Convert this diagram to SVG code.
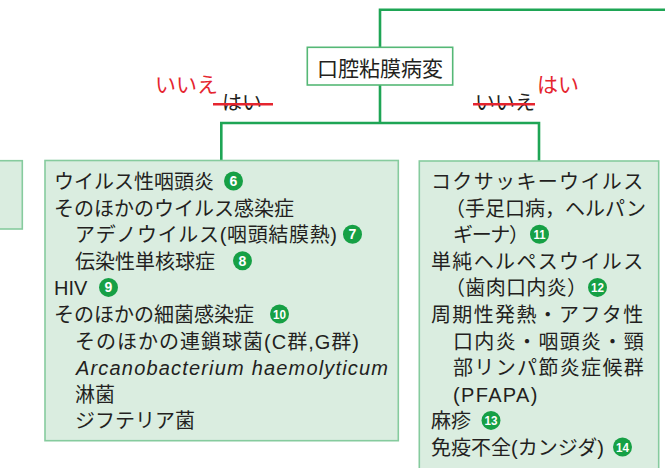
<svg xmlns="http://www.w3.org/2000/svg" width="665" height="468" viewBox="0 0 665 468">
<style>
  .t { font-family: "Liberation Sans", "Noto Sans CJK JP", sans-serif; font-size: 20px; fill: #231f20; }
  .r { letter-spacing: 1.35px; }
  .it { font-family: "Liberation Sans", sans-serif; font-style: italic; font-size: 20px; fill: #231f20; }
  .red { font-family: "Noto Sans CJK JP", sans-serif; font-size: 21px; fill: #e5252f; }
  .strk { font-family: "Noto Sans CJK JP", sans-serif; font-size: 20px; fill: #231f20; }
  .sl { stroke: #e5252f; stroke-width: 2.4; }
  .box { fill: #daede0; stroke: #86cb9e; stroke-width: 1.6; }
  .conn { fill: none; stroke: #1ea555; stroke-width: 2.6; }
  .num circle { fill: #16a045; }
  .num text { font-family: "Liberation Sans", sans-serif; font-weight: bold; font-size: 14px; fill: #ffffff; text-anchor: middle; }
  .num text.d { font-size: 12.5px; }
</style>

<g id="connectors">
  <path class="conn" d="M380,47.3 V9.8 H666"/>
  <path class="conn" d="M380,85 V123 M221.3,160.5 V123 H539 V161"/>
</g>

<g id="root">
  <rect x="307.3" y="47.3" width="145.4" height="37.7" fill="#ffffff" stroke="#55b876" stroke-width="1.6"/>
  <text class="t" x="380" y="76" text-anchor="middle" style="font-size:21px">口腔粘膜病変</text>
</g>

<g id="label-left">
  <text class="red" x="155" y="92">いいえ</text>
  <text class="strk" x="222" y="110">はい</text>
  <line class="sl" x1="213" y1="104.3" x2="273" y2="104.3"/>
</g>

<g id="label-right">
  <text class="strk" x="475" y="110">いいえ</text>
  <line class="sl" x1="473" y1="104.3" x2="535" y2="104.3"/>
  <text class="red" x="537" y="92">はい</text>
</g>

<g id="partial-box">
  <rect class="box" x="-5" y="160.7" width="27.3" height="68.3"/>
</g>

<g id="left-box">
  <rect class="box" x="45" y="160.5" width="353.3" height="280.2"/>
  <text class="t" x="54" y="189">ウイルス性咽頭炎</text>
  <g class="num"><circle cx="233.5" cy="181" r="9.5"/><text x="233.5" y="186">6</text></g>
  <text class="t" x="54" y="215.6">そのほかのウイルス感染症</text>
  <text class="t" x="75" y="242.2" textLength="262" lengthAdjust="spacing">アデノウイルス(咽頭結膜熱)</text>
  <g class="num"><circle cx="352.5" cy="234.2" r="9.5"/><text x="352.5" y="239.2">7</text></g>
  <text class="t" x="75" y="268.8">伝染性単核球症</text>
  <g class="num"><circle cx="242.5" cy="260.8" r="9.5"/><text x="242.5" y="265.8">8</text></g>
  <text class="t" x="54" y="295.4">HIV</text>
  <g class="num"><circle cx="108.5" cy="287.4" r="9.5"/><text x="108.5" y="292.4">9</text></g>
  <text class="t" x="54" y="322">そのほかの細菌感染症</text>
  <g class="num"><circle cx="279.5" cy="314" r="9.5"/><text class="d" x="279.5" y="318.5" textLength="13" lengthAdjust="spacingAndGlyphs">10</text></g>
  <text class="t" x="75" y="348.6" textLength="284" lengthAdjust="spacing">そのほかの連鎖球菌(C群,G群)</text>
  <text class="it" x="76" y="375.2" textLength="312" lengthAdjust="spacing">Arcanobacterium haemolyticum</text>
  <text class="t" x="75" y="401.8">淋菌</text>
  <text class="t" x="75" y="428.4">ジフテリア菌</text>
</g>

<g id="right-box">
  <rect class="box" x="419.3" y="161" width="239.4" height="315"/>
  <text class="t r" x="431" y="189">コクサッキーウイルス</text>
  <text class="t" x="445" y="215.6" textLength="201" lengthAdjust="spacing">（手足口病，ヘルパン</text>
  <text class="t" x="453" y="242.2" textLength="76" lengthAdjust="spacing">ギーナ）</text>
  <g class="num"><circle cx="539.5" cy="234.2" r="9.5"/><text class="d" x="539.5" y="238.7" textLength="12" lengthAdjust="spacingAndGlyphs">11</text></g>
  <text class="t r" x="431" y="268.8">単純ヘルペスウイルス</text>
  <text class="t" x="445" y="295.4" textLength="142" lengthAdjust="spacing">（歯肉口内炎）</text>
  <g class="num"><circle cx="597.5" cy="287.4" r="9.5"/><text class="d" x="597.5" y="291.9" textLength="13" lengthAdjust="spacingAndGlyphs">12</text></g>
  <text class="t r" x="431" y="322">周期性発熱・アフタ性</text>
  <text class="t r" x="453" y="348.6">口内炎・咽頭炎・頸</text>
  <text class="t r" x="453" y="375.2">部リンパ節炎症候群</text>
  <text class="t r" x="453" y="401.8">(PFAPA)</text>
  <text class="t" x="431" y="428.4">麻疹</text>
  <g class="num"><circle cx="491" cy="420.4" r="9.5"/><text class="d" x="491" y="424.9" textLength="13" lengthAdjust="spacingAndGlyphs">13</text></g>
  <text class="t" x="431" y="455">免疫不全(カンジダ)</text>
  <g class="num"><circle cx="622.5" cy="447" r="9.5"/><text class="d" x="622.5" y="451.5" textLength="13" lengthAdjust="spacingAndGlyphs">14</text></g>
</g>
</svg>
